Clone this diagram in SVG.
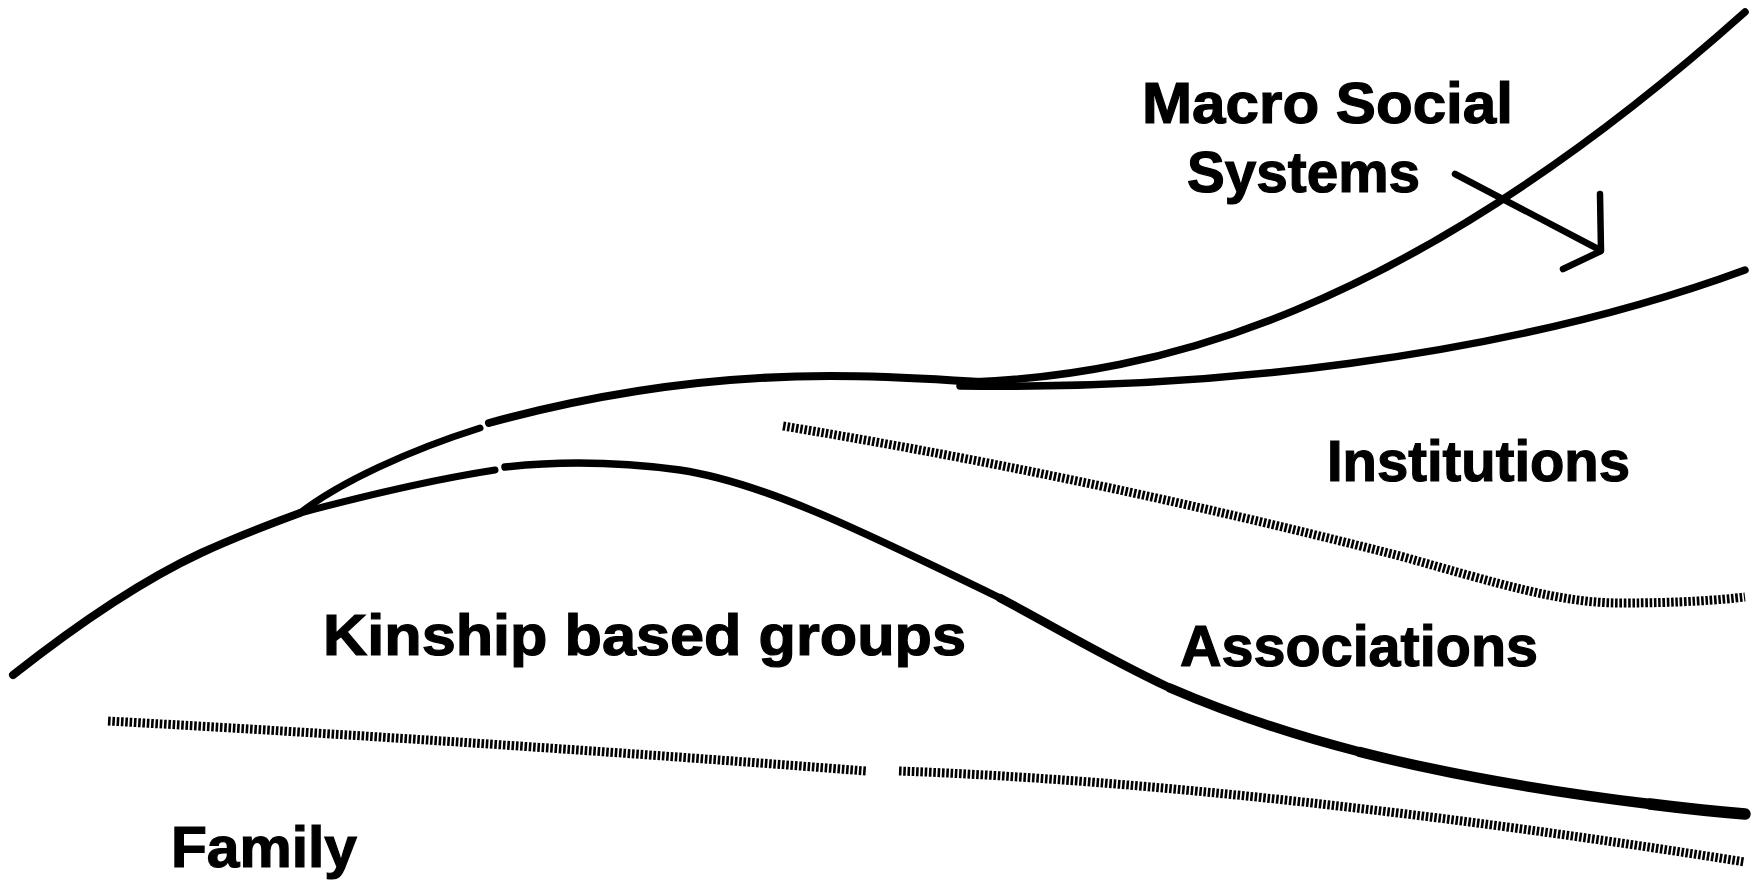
<svg xmlns="http://www.w3.org/2000/svg" width="1752" height="882" viewBox="0 0 1752 882">
<style>
.lbl{font-family:"Liberation Sans",Arial,sans-serif;font-weight:bold;font-size:58px;fill:#000;stroke:#000;stroke-width:1.2}
.ln{fill:none;stroke:#000;stroke-linecap:round;stroke-linejoin:round}
.hatch{fill:none;stroke:#000;stroke-width:9;stroke-dasharray:2.6 1.7}
</style>
<rect width="1752" height="882" fill="#fff"/>
<g id="lines">
  <path class="ln" stroke-width="8" d="M13,675 C60,638 130,586 201,553 C240,535 270,524 300,513"/>
  <path class="ln" stroke-width="7" d="M300,513 C340,482 410,450 480,428"/>
  <path class="ln" stroke-width="7" d="M300,513 C360,497 430,480 495,470"/>
  <path class="ln" stroke-width="8" d="M489,423 C580,398 700,376 830,376 C900,376 940,380 1000,383"/>
  <path class="ln" stroke-width="7.5" d="M972,382 C1150,375 1400,320 1745,12"/>
  <path class="ln" stroke-width="7.5" d="M960,386 C1200,390 1500,360 1745,270"/>
  <path class="ln" stroke-width="7.5" d="M505,467 C560,461 620,462 680,470 C760,482 850,525 1000,598"/>
  <path class="ln" stroke-width="8.5" d="M1000,598 C1060,630 1110,660 1170,688"/>
  <path class="ln" stroke-width="9.5" d="M1170,688 C1230,714 1290,734 1360,752"/>
  <path class="ln" stroke-width="10.5" d="M1360,752 C1450,775 1560,793 1650,804"/>
  <path class="ln" stroke-width="11.5" d="M1650,804 C1690,809 1720,812 1745,814"/>
  <path class="hatch" d="M783,426 C1000,462 1200,505 1400,556 C1500,584 1560,603 1620,603 C1680,603 1720,600 1745,597"/>
  <path class="hatch" d="M108,721 Q490,742 866,771"/>
  <path class="hatch" d="M899,771 C1150,780 1450,815 1745,862"/>
</g>
<g id="arrow">
  <path class="ln" stroke-width="6.5" d="M1455,174 L1600,250"/>
  <path class="ln" stroke-width="6.5" stroke-linejoin="miter" d="M1600,194 L1601,251 L1563,269"/>
</g>
<g id="macro"><text class="lbl" x="1142" y="123" textLength="371" lengthAdjust="spacingAndGlyphs">Macro Social</text>
<text class="lbl" x="1187" y="192" textLength="233" lengthAdjust="spacingAndGlyphs">Systems</text></g>
<g id="institutions"><text class="lbl" x="1327" y="481" textLength="303" lengthAdjust="spacingAndGlyphs">Institutions</text></g>
<g id="associations"><text class="lbl" x="1180" y="666" textLength="358" lengthAdjust="spacingAndGlyphs">Associations</text></g>
<g id="kinship"><text class="lbl" x="323" y="655" textLength="643" lengthAdjust="spacingAndGlyphs">Kinship based groups</text></g>
<g id="family"><text class="lbl" x="171" y="867" textLength="186" lengthAdjust="spacingAndGlyphs">Family</text></g>
</svg>
